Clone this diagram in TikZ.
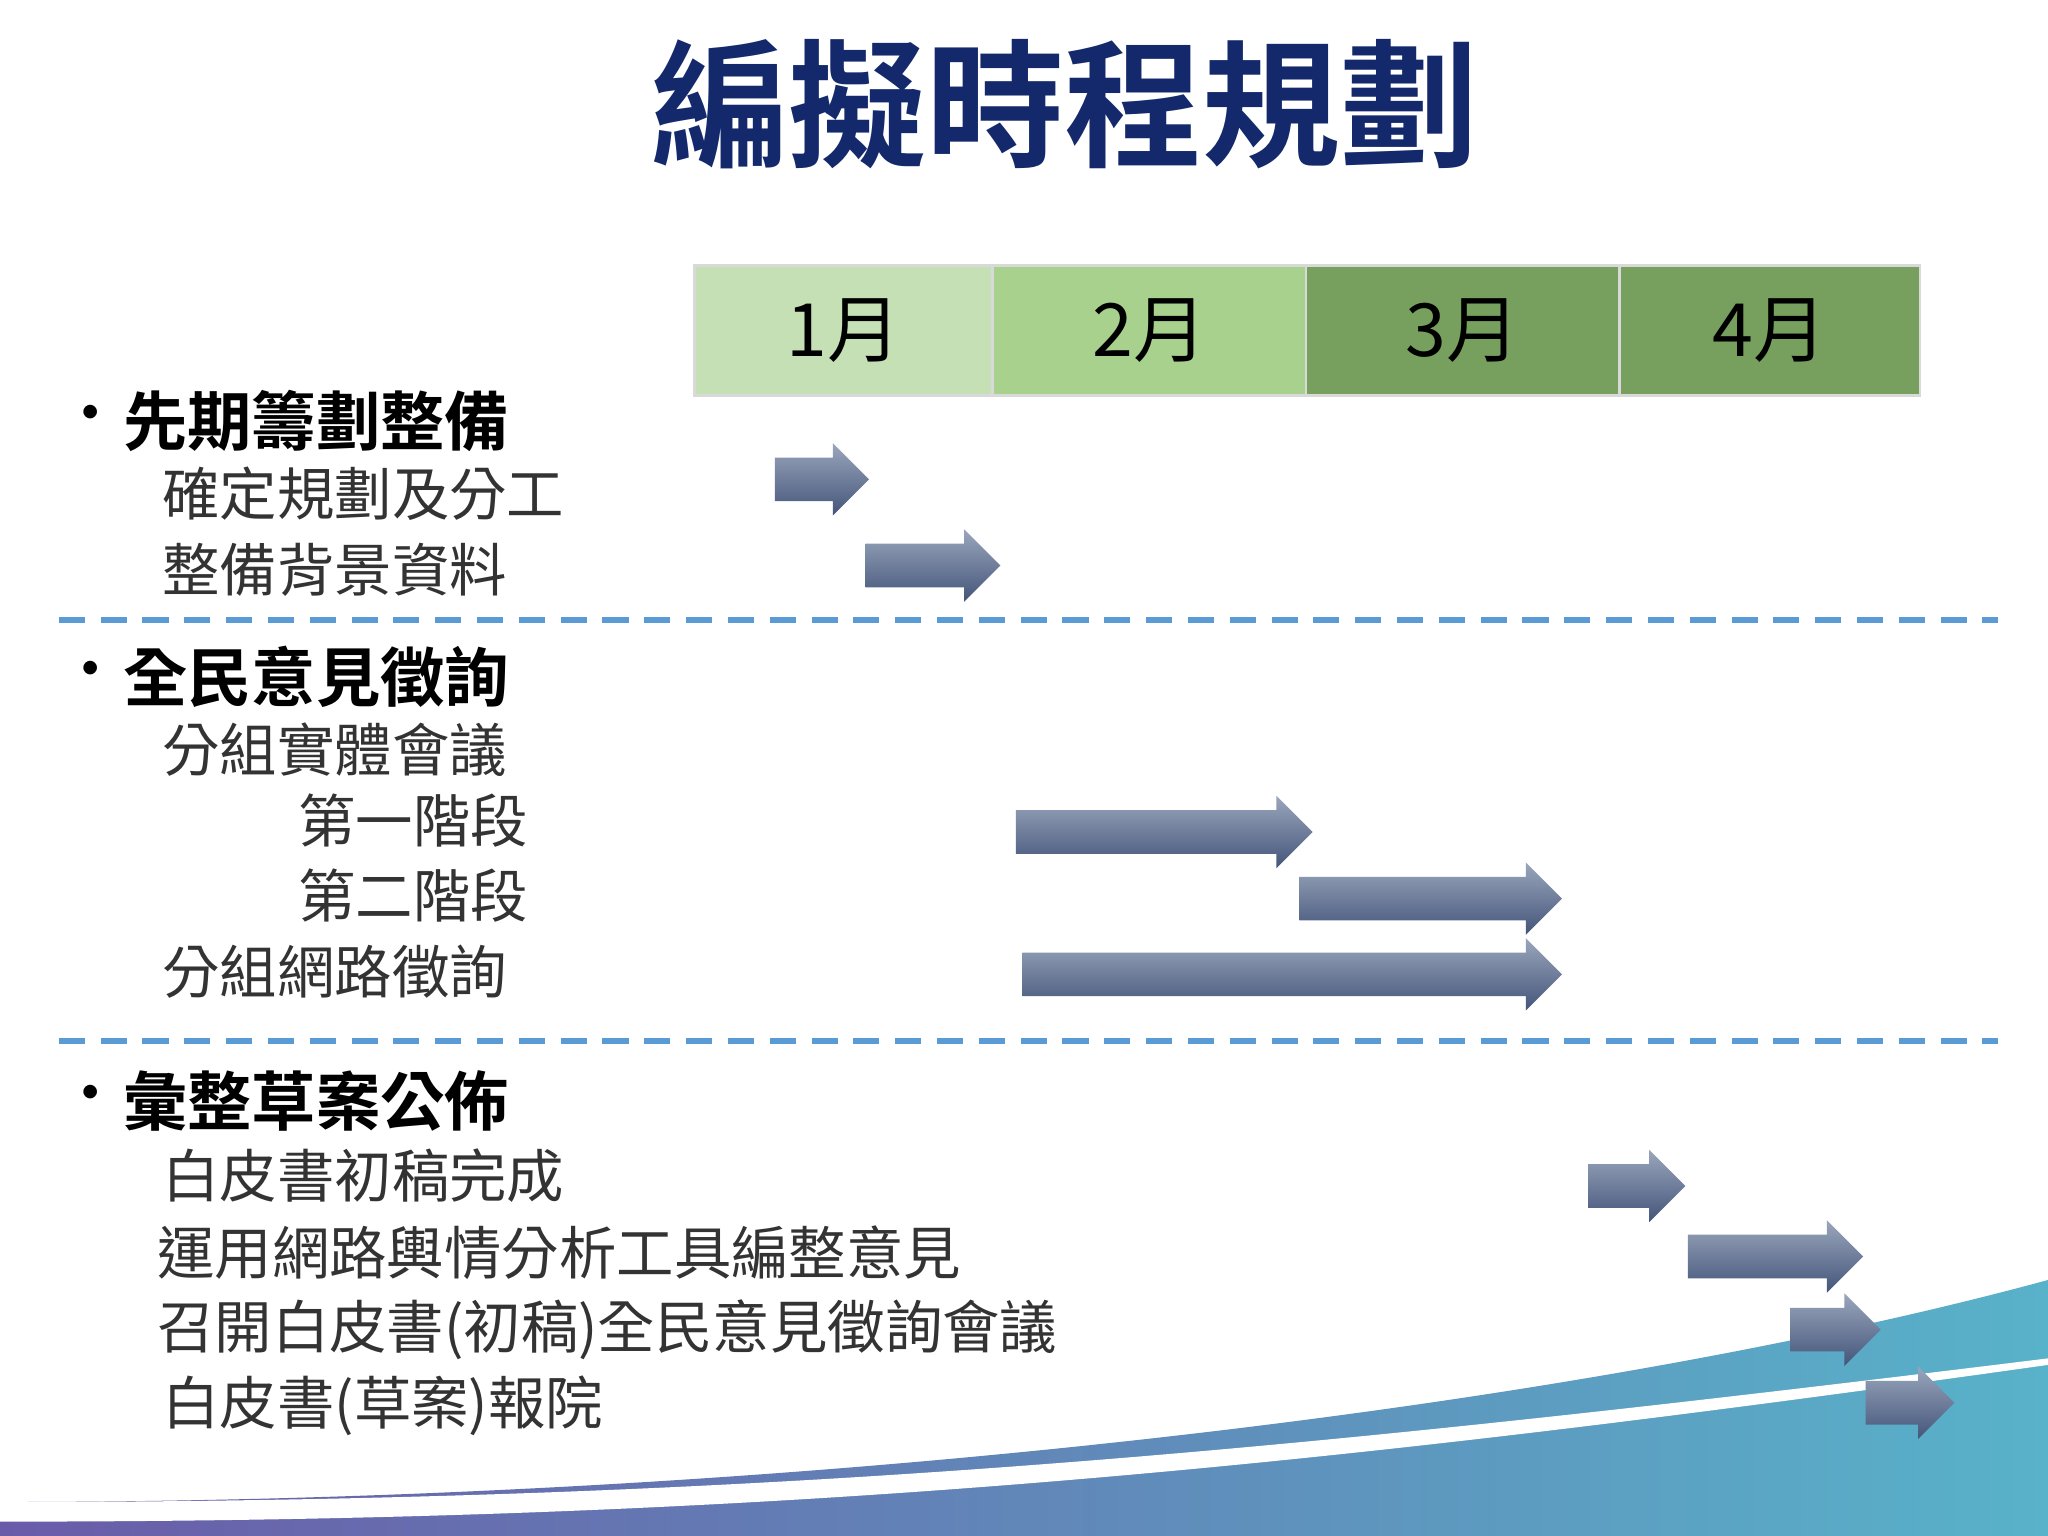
\documentclass[tikz,border=0pt]{standalone}
\usepackage{fontspec}
\setmainfont{Noto Sans CJK TC}
\newfontfamily\cjkb{Noto Sans CJK TC Bold}
\usetikzlibrary{shapes.arrows}
\definecolor{navy}{HTML}{13296B}
\definecolor{mA}{HTML}{C5E0B4}
\definecolor{mB}{HTML}{A9D18E}
\definecolor{mC}{HTML}{77A05E}
\definecolor{dash}{HTML}{5B9BD5}
\definecolor{swL}{HTML}{6A5BA8}
\definecolor{swR}{HTML}{58B2C9}
\definecolor{arT}{HTML}{9AA6BC}
\definecolor{arB}{HTML}{44557A}
\tikzset{
 arr/.style={single arrow, minimum width=0.54cm, single arrow head extend=0.11cm, inner xsep=0pt, inner ysep=0.16cm,
   top color=arT, bottom color=arB, draw=none},
 month/.style={draw=white!85!black, line width=0.6pt, minimum height=0.99cm, font=\fontsize{16}{16}\selectfont, inner sep=0pt},
 head/.style={anchor=west, font=\cjkb\fontsize{14}{16}\selectfont},
 bul/.style={anchor=west, font=\fontsize{14}{16}\selectfont},
 sub/.style={anchor=west, font=\fontsize{12.5}{14}\selectfont, text=black!80},
 sep/.style={draw=dash, line width=1.3pt, dash pattern=on 0.2cm off 0.12cm}
}
\begin{document}
\begin{tikzpicture}[x={(0.01cm,0)},y={(0,-0.01cm)}]
\fill[white] (0,0) rectangle (1568,1176);
\useasboundingbox (0,0) rectangle (1568,1176);
% bottom swoosh
\shade[left color=swL, right color=swR] (0,1176) -- (0,1150) .. controls (600,1150) and (1200,1080) .. (1568,980) -- (1568,1176) -- cycle;
\fill[white] (0,1150) .. controls (600,1150) and (1000,1110) .. (1568,1040) -- (1568,1045) .. controls (1000,1125) and (600,1165) .. (0,1165) -- cycle;
% title
\node[font=\cjkb\fontsize{30}{30}\selectfont, text=navy] (title) at (815,80) {編擬時程規劃};
% months
\node[month, fill=mA, minimum width=2.28cm] (m1) at (646,253) {1月};
\node[month, fill=mB, minimum width=2.40cm] (m2) at (880,253) {2月};
\node[month, fill=mC, minimum width=2.40cm] (m3) at (1120,253) {3月};
\node[month, fill=mC, minimum width=2.30cm] (m4) at (1355,253) {4月};
% headings
\node[bul] (p1) at (32,322) {•};
\node[head] (b1) at (82,322) {先期籌劃整備};
\node[sub] (s11) at (112,378) {確定規劃及分工};
\node[sub] (s12) at (112,436) {整備背景資料};
\node[bul] (p2) at (32,518) {•};
\node[head] (b2) at (82,518) {全民意見徵詢};
\node[sub] (s21) at (112,574) {分組實體會議};
\node[sub] (s22) at (216,628) {第一階段};
\node[sub] (s23) at (216,686) {第二階段};
\node[sub] (s24) at (112,744) {分組網路徵詢};
\node[bul] (p3) at (32,843) {•};
\node[head] (b3) at (82,843) {彙整草案公佈};
\node[sub] (s31) at (112,900) {白皮書初稿完成};
\node[sub] (s32) at (108,959) {運用網路輿情分析工具編整意見};
\node[sub] (s33) at (108,1018) {召開白皮書(初稿)全民意見徵詢會議};
\node[sub] (s34) at (112,1076) {白皮書(草案)報院};
% separators
\draw[sep] (45,475) -- (1530,475);
\draw[sep] (45,797) -- (1530,797);
% arrows
\node[arr, minimum height=0.72cm] (a1) at (621,367) {};
\node[arr, minimum height=1.03cm] (a2) at (706,433) {};
\node[arr, minimum height=2.27cm] (a3) at (883,637) {};
\node[arr, minimum height=2.01cm] (a4) at (1087,688) {};
\node[arr, minimum height=4.13cm] (a5) at (981,746) {};
\node[arr, minimum height=0.74cm] (a6) at (1245,908) {};
\node[arr, minimum height=1.34cm] (a7) at (1351,962) {};
\node[arr, minimum height=0.69cm] (a8) at (1397,1018) {};
\node[arr, minimum height=0.68cm] (a9) at (1454,1074) {};
\end{tikzpicture}
\end{document}
